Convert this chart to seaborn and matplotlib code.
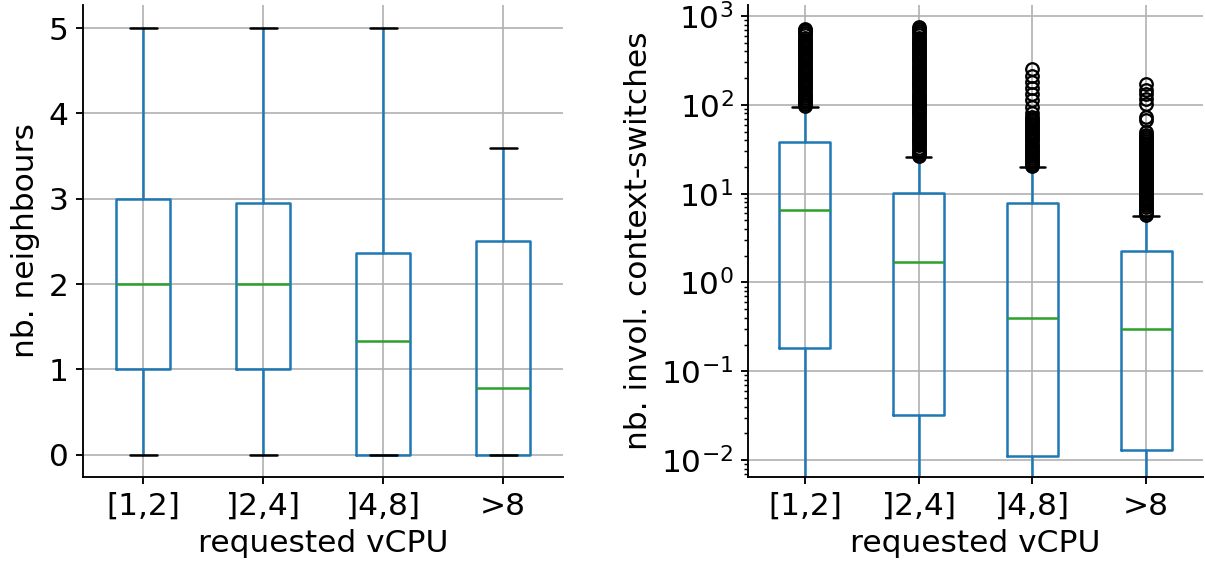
import matplotlib
matplotlib.use("Agg")
import matplotlib.pyplot as plt
import seaborn as sns

# categories on the x axis
categories = ["[1,2]", "]2,4]", "]4,8]", ">8"]

# left panel: nb. neighbours (box stats)
nb_q1 = [1.0, 1.0, 0.0, 0.0]
nb_med = [2.0, 2.0, 1.33, 0.78]
nb_q3 = [3.0, 2.95, 2.37, 2.50]
nb_lo = [0.0, 0.0, 0.0, 0.0]
nb_hi = [5.0, 5.0, 5.0, 3.6]

# right panel: nb. invol. context-switches (log scale)
cs_q1 = [0.182, 0.0323, 0.0111, 0.013]
cs_med = [6.5, 1.72, 0.396, 0.30]
cs_q3 = [38.0, 10.3, 7.9, 2.29]
cs_lo = [0.0, 0.0, 0.0, 0.0]
cs_hi = [95.0, 25.7, 19.8, 5.6]

# outliers (estimated from the dense columns of circles)
fliers_12 = [97, 102, 108, 114, 120, 127, 134, 141, 149, 157, 166, 175, 185,
             195, 206, 217, 229, 242, 255, 269, 284, 300, 316, 334, 352, 372,
             392, 414, 437, 461, 487, 514, 542, 572, 604, 637, 672, 700, 721]
fliers_24 = [26.5, 28, 29.5, 31, 33, 35, 37, 39, 41, 43, 45.5, 48, 51, 54, 57,
             60, 63, 66.5, 70, 74, 78, 82, 87, 92, 97, 102, 108, 114, 120, 127,
             134, 141, 149, 157, 166, 175, 185, 195, 206, 217, 229, 242, 255,
             269, 284, 300, 316, 334, 352, 372, 392, 414, 437, 461, 487, 514,
             542, 572, 604, 637, 672, 710, 752]
fliers_48 = [20.5, 21.5, 22.7, 24, 25.3, 26.7, 28.2, 29.7, 31.3, 33, 34.8,
             36.7, 38.7, 40.8, 43, 45.4, 47.9, 50.5, 53.3, 56.2, 59.3, 62.5,
             66, 70, 73, 80, 94, 114, 134, 156, 181, 209, 256]
fliers_8 = [5.7, 6, 6.3, 6.6, 7, 7.4, 7.8, 8.2, 8.6, 9.1, 9.6, 10.1, 10.6,
            11.2, 11.8, 12.4, 13.1, 13.8, 14.5, 15.3, 16.1, 17, 17.9, 18.9,
            19.9, 21, 22.1, 23.3, 24.5, 25.8, 27.2, 28.7, 30.2, 31.8, 33.5,
            35.3, 37.2, 39.2, 41.3, 43.5, 46, 49, 67, 73, 103, 117, 131, 148,
            173]


def make_stats(q1, med, q3, lo, hi, fliers):
    stats = []
    for i, lab in enumerate(categories):
        stats.append(dict(label=lab, q1=q1[i], med=med[i], q3=q3[i],
                          whislo=lo[i], whishi=hi[i], fliers=fliers[i]))
    return stats


def draw_box(ax, stats):
    lw = 1.2
    ax.bxp(stats, positions=[1, 2, 3, 4], widths=0.45,
           boxprops=dict(color="#1f77b4", linewidth=lw),
           whiskerprops=dict(color="#1f77b4", linewidth=lw),
           medianprops=dict(color="#2ca02c", linewidth=lw),
           capprops=dict(color="k", linewidth=lw),
           flierprops=dict(marker="o", markeredgecolor="k",
                           markerfacecolor="none", markersize=6,
                           markeredgewidth=1.1))
    ax.set_xlim(0.5, 4.5)
    ax.grid(True, color="#b0b0b0", linewidth=0.8)
    ax.set_xlabel("requested vCPU")
    sns.despine(ax=ax)


sns.set_style("ticks")
plt.rcParams.update({
    "font.family": ["DejaVu Sans"],
    "font.size": 15,
    "axes.labelsize": 15,
    "xtick.labelsize": 15,
    "ytick.labelsize": 15,
    "text.color": "black",
    "axes.labelcolor": "black",
    "axes.edgecolor": "black",
    "xtick.color": "black",
    "ytick.color": "black",
    "axes.linewidth": 0.9,
    "xtick.major.width": 0.9,
    "ytick.major.width": 0.9,
    "ytick.minor.width": 0.7,
})

fig = plt.figure(figsize=(1205 / 150, 564 / 150), dpi=150)
ax1 = fig.add_axes([83 / 1205, 87 / 564, 480 / 1205, 472 / 564])
ax2 = fig.add_axes([748 / 1205, 87 / 564, 455 / 1205, 472 / 564])

nb_stats = make_stats(nb_q1, nb_med, nb_q3, nb_lo, nb_hi, [[], [], [], []])
draw_box(ax1, nb_stats)
ax1.set_ylim(-0.26, 5.27)
ax1.set_ylabel("nb. neighbours")

cs_stats = make_stats(cs_q1, cs_med, cs_q3, cs_lo, cs_hi,
                      [fliers_12, fliers_24, fliers_48, fliers_8])
ax2.set_yscale("log")
draw_box(ax2, cs_stats)
ax2.set_ylim(10 ** -2.19, 10 ** 3.124)
ax2.set_ylabel("nb. invol. context-switches")

fig.savefig("out.png", dpi=150)
